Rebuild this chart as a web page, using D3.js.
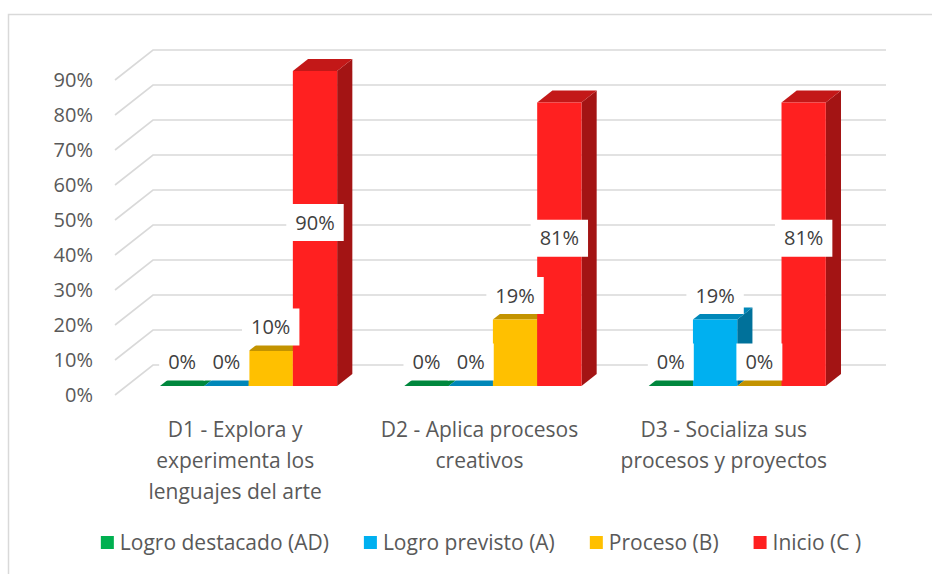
<!DOCTYPE html>
<html>
<head>
<meta charset="utf-8">
<script src="https://d3js.org/d3.v7.min.js"></script>
<style>
  body { margin: 0; background: #fff; }
  svg text { font-family: "Open Sans", sans-serif; fill: #595959; }
</style>
</head>
<body>
<div id="chart"></div>
<script>
// data
var categories = ["D1", "D2", "D3"];
var categoryLines = [
  ["D1 - Explora y", "experimenta los", "lenguajes del arte"],
  ["D2 - Aplica procesos", "creativos"],
  ["D3 - Socializa sus", "procesos y proyectos"]
];
var seriesNames = ["Logro destacado (AD)", "Logro previsto (A)", "Proceso (B)", "Inicio (C )"];
var seriesColors = ["#00B050", "#00B0F0", "#FFC000", "#FF2020"];
var adValues = [0, 0, 0];
var aValues = [0, 0, 0.19];
var bValues = [0.10, 0.19, 0];
var cValues = [0.90, 0.81, 0.81];
var yTicks = [0, 0.1, 0.2, 0.3, 0.4, 0.5, 0.6, 0.7, 0.8, 0.9];

var allValues = [adValues, aValues, bValues, cValues];

var width = 932, height = 574;
var depthX = 38, depthY = 30;   // 3d offset of the back wall
var z0 = 0.3, z1 = 0.7;          // bars sit in the middle of the depth

var svg = d3.select("#chart").append("svg")
  .attr("width", width)
  .attr("height", height);

// outer frame
svg.append("rect")
  .attr("x", 8.5).attr("y", 14.5)
  .attr("width", 960).attr("height", 600)
  .attr("fill", "none")
  .attr("stroke", "#d9d9d9")
  .attr("stroke-width", 1.5);

var y = d3.scaleLinear().domain([0, 1]).range([395, 45]);

var x0 = d3.scaleBand()
  .domain(categories)
  .range([115, 848])
  .paddingInner(0.275)
  .paddingOuter(0.1375);

var x1 = d3.scaleBand()
  .domain(seriesNames)
  .range([0, x0.bandwidth()]);

// gridlines: front diagonal + back wall
svg.append("g").selectAll("polyline")
  .data(yTicks)
  .enter().append("polyline")
  .attr("points", function (d) {
    var yy = y(d);
    return [[115, yy], [115 + depthX, yy - depthY], [848 + depthX, yy - depthY]]
      .map(function (p) { return p.join(","); }).join(" ");
  })
  .attr("fill", "none")
  .attr("stroke", "#d9d9d9")
  .attr("stroke-width", 1.6);

// y axis labels
var yAxis = svg.append("g")
  .attr("transform", "translate(100,0)")
  .call(d3.axisLeft(y).tickValues(yTicks).tickFormat(d3.format(".0%")).tickSize(0).tickPadding(7));
yAxis.select(".domain").remove();
yAxis.selectAll("text")
  .attr("font-family", "Open Sans")
  .style("font-size", "20px")
  .style("fill", "#595959");

// flatten bars, left to right so overlaps paint correctly
var bars = [];
categories.forEach(function (c, i) {
  seriesNames.forEach(function (s, j) {
    bars.push({ cat: c, ser: s, idx: j, value: allValues[j][i] });
  });
});

function pts(arr) {
  return arr.map(function (p) { return p[0] + "," + p[1]; }).join(" ");
}

var barG = svg.append("g");
bars.forEach(function (d) {
  var xl = x0(d.cat) + x1(d.ser);
  var xr = xl + x1.bandwidth();
  var yt = y(d.value), yb = y(0);
  var ax = z0 * depthX, ay = z0 * depthY;
  var bx = z1 * depthX, by = z1 * depthY;
  var base = d3.color(seriesColors[d.idx]);
  var g = barG.append("g");

  g.append("polygon")
    .attr("points", pts([[xr + ax, yt - ay], [xr + bx, yt - by], [xr + bx, yb - by], [xr + ax, yb - ay]]))
    .attr("fill", base.darker(1.25));
  g.append("polygon")
    .attr("points", pts([[xl + ax, yt - ay], [xr + ax, yt - ay], [xr + bx, yt - by], [xl + bx, yt - by]]))
    .attr("fill", base.darker(0.75));
  if (d.value > 0) {
    g.append("polygon")
      .attr("points", pts([[xl + ax, yt - ay], [xr + ax, yt - ay], [xr + ax, yb - ay], [xl + ax, yb - ay]]))
      .attr("fill", base);
  }
});

// data labels with white boxes
var labelG = svg.append("g");
bars.forEach(function (d) {
  var cx = x0(d.cat) + x1(d.ser) + x1.bandwidth() / 2 + z0 * depthX;
  var cy;
  if (d.value >= 0.5) {
    cy = y(d.value / 2) - 0.5 * depthY;
  } else {
    cy = y(d.value) - z1 * depthY - 12;
  }
  var lg = labelG.append("g");
  var rect = lg.append("rect").attr("fill", "#fff");
  var t = lg.append("text")
    .attr("x", cx)
    .attr("y", cy)
    .attr("dy", "0.36em")
    .attr("text-anchor", "middle")
    .style("font-size", "20px")
    .style("fill", "#404040")
    .text(d3.format(".0%")(d.value));
  var w = t.node().getComputedTextLength();
  rect.attr("x", cx - w / 2 - 9).attr("y", cy - 18.5)
    .attr("width", w + 18).attr("height", 37);
});

// category labels
var catG = svg.append("g");
categories.forEach(function (c, i) {
  var t = catG.append("text")
    .attr("text-anchor", "middle")
    .style("font-size", "21px");
  categoryLines[i].forEach(function (line, k) {
    t.append("tspan")
      .attr("x", x0(c) + x0.bandwidth() / 2 - 2)
      .attr("y", 437 + k * 31)
      .text(line);
  });
});

// legend
var legend = svg.append("g");
var lx = 0;
seriesNames.forEach(function (s, j) {
  var it = legend.append("g");
  it.append("rect")
    .attr("x", lx).attr("y", 536)
    .attr("width", 13).attr("height", 13)
    .attr("fill", seriesColors[j]);
  var t = it.append("text")
    .attr("x", lx + 19).attr("y", 550)
    .style("font-size", "21px")
    .text(s);
  lx += 19 + t.node().getComputedTextLength() + 35;
});
var legendW = lx - 35;
legend.attr("transform", "translate(" + (481 - legendW / 2) + ",0)");
</script>
</body>
</html>
